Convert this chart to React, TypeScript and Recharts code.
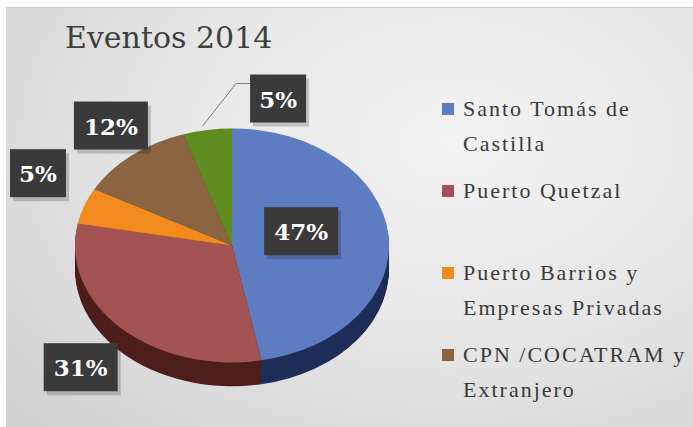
import React from 'react';
import { PieChart, Pie, Cell } from 'recharts';

// Chart values
const SLICE_NAMES = [
  'Santo Tomás de Castilla',
  'Puerto Quetzal',
  'Puerto Barrios y Empresas Privadas',
  'CPN /COCATRAM y Extranjero',
  'Otros',
];
const SLICE_VALUES = [47, 31, 5, 12, 5];
// the legend box in the original is cut after the fourth entry
const LEGEND_VISIBLE = 4;

const TOP_COLORS = ['#5e7cc1', '#a35352', '#f28a1e', '#8b6441', '#5e8c1f'];
const SIDE_COLORS = ['#1f2e59', '#4e1e1d', '#a35a10', '#5a3f27', '#3b5a12'];

const data = SLICE_NAMES.map((name, i) => ({ name, value: SLICE_VALUES[i] }));

// geometry of the tilted pie (panel coordinates)
const SY = 0.745; // vertical squash for the 3D look
const R = 157;
const PIE_CX = 221;
const PIE_CY = 260; // unscaled
const CHART_TOP = 234 - PIE_CY * SY;
const DEPTH = 32; // unscaled
const depthSteps: number[] = [];
for (let k = DEPTH; k > 0; k -= 2) depthSteps.push(k);

// label placement: radius factor + small nudge, like Excel's best fit
const LABEL_RADIUS = [0.5, 1.3, 1.3, 1.3, 1.3];
const LABEL_NUDGE: [number, number][] = [
  [-4, -5],
  [-2, 18],
  [3, -17],
  [14, 1],
  [83, 7],
];
const LABEL_LEADER = [false, false, false, false, true];

const FONT = '"Liberation Serif", "DejaVu Serif", serif';
const LABEL_FONT = '"DejaVu Serif", serif';

const renderLabel = (props: any) => {
  const { midAngle, index, percent } = props;
  const rad = (midAngle * Math.PI) / 180;
  const ux = Math.cos(rad);
  const uy = -Math.sin(rad);
  const f = LABEL_RADIUS[index];
  const [nx, ny] = LABEL_NUDGE[index];
  const sx = R * f * ux + nx;
  const sy = R * SY * f * uy + ny;
  const text = `${Math.round(percent * 100)}%`;
  const w = 20 + 18 * text.length;
  const h = 48;
  const ex = R * ux - sx;
  const ey = R * SY * uy - sy;
  return (
    <g transform={`translate(${PIE_CX + sx}, ${PIE_CY + sy / SY}) scale(1, ${1 / SY})`}>
      {LABEL_LEADER[index] && (
        <polyline
          points={`${ex},${ey} ${-w / 2 - 14},${-h / 2 + 9} ${-w / 2},${-h / 2 + 9}`}
          fill="none"
          stroke="#7f7f7f"
          strokeWidth={1}
        />
      )}
      <rect x={-w / 2 + 3} y={-h / 2 + 4} width={w} height={h} fill="rgba(0,0,0,0.18)" />
      <rect x={-w / 2} y={-h / 2} width={w} height={h} fill="#3a3a3a" />
      <text
        x={0}
        y={9}
        textAnchor="middle"
        fill="#ffffff"
        fontFamily={LABEL_FONT}
        fontWeight="bold"
        fontSize={23}
      >
        {text}
      </text>
    </g>
  );
};

export default function App() {
  return (
    <div
      style={{
        position: 'absolute',
        left: 0,
        top: 0,
        width: 693,
        height: 427,
        background: '#ffffff',
        overflow: 'hidden',
      }}
    >
      <div
        style={{
          position: 'absolute',
          left: 6,
          top: 7,
          width: 687,
          height: 420,
          borderTop: '1px solid #c9c9c9',
          background:
            'radial-gradient(ellipse 85% 95% at 65% 32%, #f3f3f3 0%, #e8e8e8 45%, #d1d1d1 100%)',
          overflow: 'hidden',
        }}
      >
        {/* Title */}
        <div
          style={{
            position: 'absolute',
            left: 59,
            top: 15,
            fontFamily: LABEL_FONT,
            fontSize: 30,
            lineHeight: 1,
            color: '#3f3f3f',
            whiteSpace: 'nowrap',
          }}
        >
          Eventos 2014
        </div>

        {/* Pie, squashed vertically for the 3D look */}
        <div
          style={{
            position: 'absolute',
            left: 0,
            top: CHART_TOP,
            width: 460,
            height: 470,
            transform: `scaleY(${SY})`,
            transformOrigin: 'top left',
          }}
        >
          <PieChart width={460} height={470}>
            {depthSteps.map((k) => (
              <Pie
                key={`side-${k}`}
                data={data}
                dataKey="value"
                cx={PIE_CX}
                cy={PIE_CY + k}
                outerRadius={R}
                startAngle={90}
                endAngle={-270}
                stroke="none"
                isAnimationActive={false}
              >
                {data.map((d, i) => (
                  <Cell key={d.name} fill={SIDE_COLORS[i]} />
                ))}
              </Pie>
            ))}
            <Pie
              data={data}
              dataKey="value"
              cx={PIE_CX}
              cy={PIE_CY}
              outerRadius={R}
              startAngle={90}
              endAngle={-270}
              stroke="none"
              label={renderLabel}
              labelLine={false}
              isAnimationActive={false}
            >
              {data.map((d, i) => (
                <Cell key={d.name} fill={TOP_COLORS[i]} />
              ))}
            </Pie>
          </PieChart>
        </div>

        {/* Legend */}
        <div
          style={{
            position: 'absolute',
            left: 436,
            top: 0,
            width: 251,
            height: 406,
            overflow: 'hidden',
          }}
        >
          {data.slice(0, LEGEND_VISIBLE).map((d, i) => (
            <div
              key={d.name}
              style={{
                position: 'absolute',
                left: 0,
                top: 83 + i * 82,
                width: 251,
              }}
            >
              <div
                style={{
                  position: 'absolute',
                  left: 0,
                  top: 11.5,
                  width: 12,
                  height: 12,
                  background: TOP_COLORS[i],
                }}
              />
              <div
                style={{
                  marginLeft: 21,
                  width: 232,
                  fontFamily: FONT,
                  fontSize: 22,
                  lineHeight: '35px',
                  letterSpacing: 2,
                  color: '#3a3a3a',
                }}
              >
                {d.name}
              </div>
            </div>
          ))}
        </div>
      </div>
    </div>
  );
}
